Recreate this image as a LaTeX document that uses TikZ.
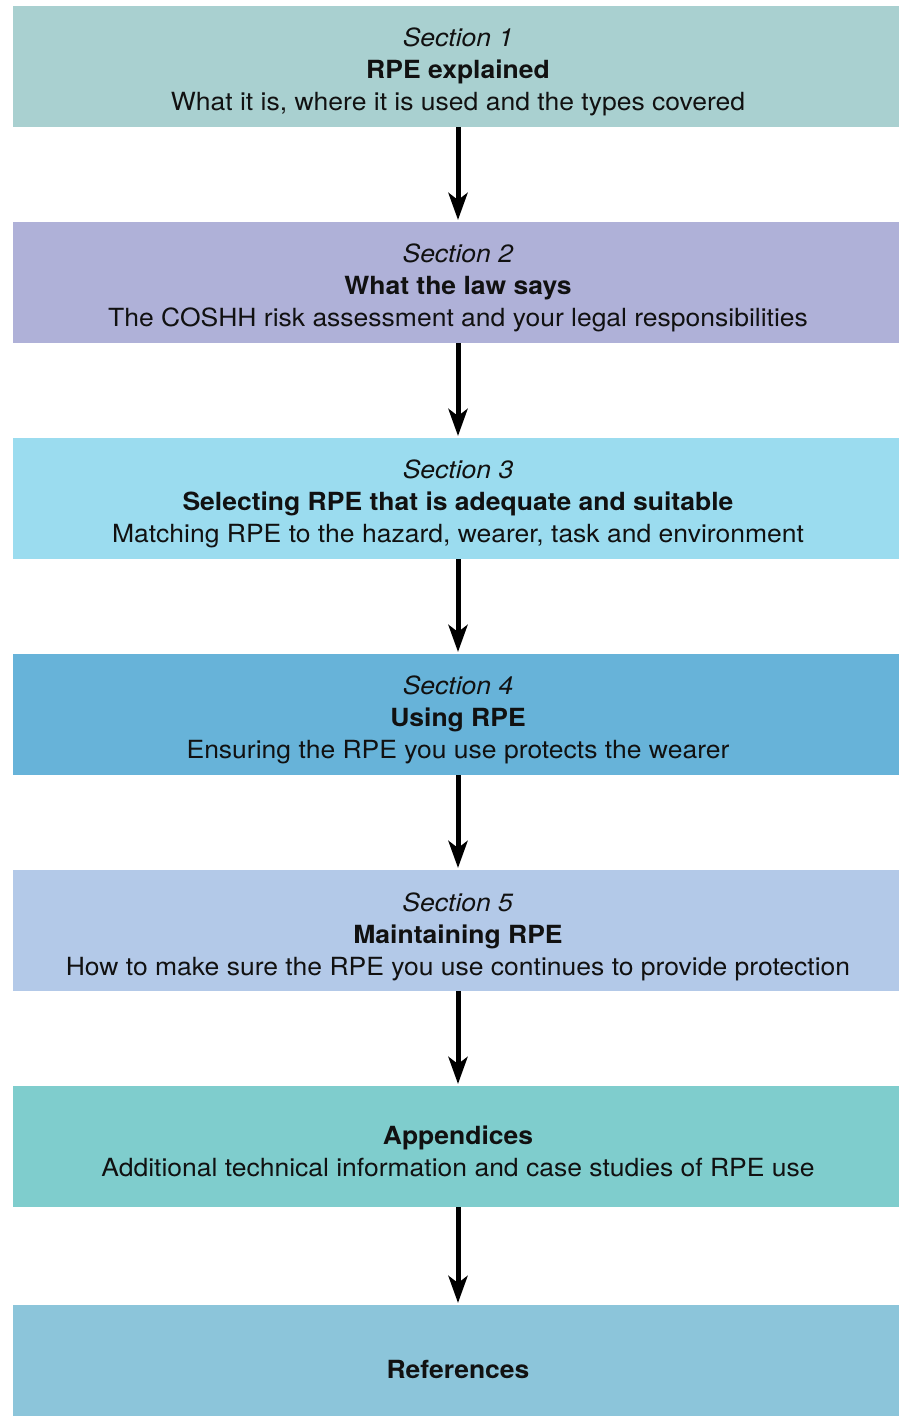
\documentclass[tikz,border=0pt]{standalone}
\usepackage{fontspec}
\setmainfont{TeX Gyre Heros}[FakeStretch=1.06]
\usetikzlibrary{arrows.meta}
\definecolor{cA}{HTML}{A9D0D0}
\definecolor{cB}{HTML}{AFB1D8}
\definecolor{cC}{HTML}{9BDCEF}
\definecolor{cD}{HTML}{67B3D9}
\definecolor{cE}{HTML}{B3C9E8}
\definecolor{cF}{HTML}{7FCDCD}
\definecolor{cG}{HTML}{8CC5DA}
\definecolor{ink}{HTML}{111111}
\tikzset{
  box/.style={draw=none, rectangle, minimum width=886pt, inner sep=0pt, outer sep=0pt},
  txt/.style={align=center, text=ink, inner sep=0pt, font=\fontsize{25}{32}\selectfont},
  arr/.style={line width=5pt, -{Stealth[length=27pt,width=19pt,inset=7pt]}, draw=black}
}
\begin{document}
\begin{tikzpicture}[x=1pt,y=1pt]
\useasboundingbox (0,0) rectangle (899,-1416);
\node[box, fill=cA, minimum height=121pt] (b1) at (456,-66.5) {};
\node[box, fill=cB, minimum height=121pt] (b2) at (456,-282.5) {};
\node[box, fill=cC, minimum height=121pt] (b3) at (456,-498.5) {};
\node[box, fill=cD, minimum height=121pt] (b4) at (456,-714.5) {};
\node[box, fill=cE, minimum height=121pt] (b5) at (456,-930.5) {};
\node[box, fill=cF, minimum height=121pt] (b6) at (456,-1146.5) {};
\node[box, fill=cG, minimum height=111pt] (b7) at (456,-1360.5) {};

\node[txt] (t1) at (458,-72) {\textit{Section 1}\\\textbf{RPE explained}\\What it is, where it is used and the types covered};
\node[txt] (t2) at (458,-288) {\textit{Section 2}\\\textbf{What the law says}\\The COSHH risk assessment and your legal responsibilities};
\node[txt] (t3) at (458,-504) {\textit{Section 3}\\\textbf{Selecting RPE that is adequate and suitable}\\Matching RPE to the hazard, wearer, task and environment};
\node[txt] (t4) at (458,-720) {\textit{Section 4}\\\textbf{Using RPE}\\Ensuring the RPE you use protects the wearer};
\node[txt] (t5) at (458,-937) {\textit{Section 5}\\\textbf{Maintaining RPE}\\How to make sure the RPE you use continues to provide protection};
\node[txt] (t6) at (458,-1151) {\textbf{Appendices}\\Additional technical information and case studies of RPE use};
\node[txt] (t7) at (458,-1369) {\textbf{References}};

\draw[arr] ([xshift=2pt]b1.south) -- ([xshift=2pt,yshift=2pt]b2.north);
\draw[arr] ([xshift=2pt]b2.south) -- ([xshift=2pt,yshift=2pt]b3.north);
\draw[arr] ([xshift=2pt]b3.south) -- ([xshift=2pt,yshift=2pt]b4.north);
\draw[arr] ([xshift=2pt]b4.south) -- ([xshift=2pt,yshift=2pt]b5.north);
\draw[arr] ([xshift=2pt]b5.south) -- ([xshift=2pt,yshift=2pt]b6.north);
\draw[arr] ([xshift=2pt]b6.south) -- ([xshift=2pt,yshift=2pt]b7.north);
\end{tikzpicture}
\end{document}
